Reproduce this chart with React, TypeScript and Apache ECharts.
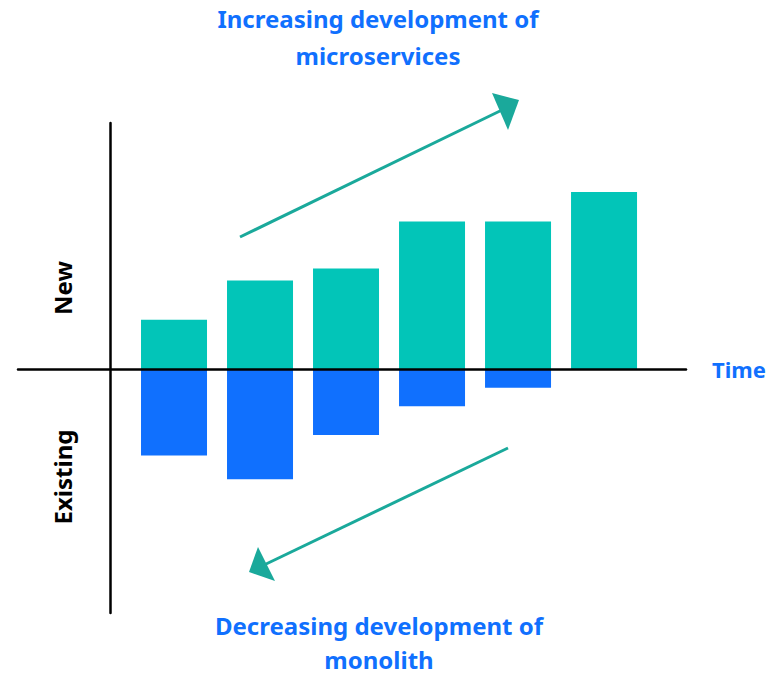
import React, { useEffect, useRef } from "react";
import * as echarts from "echarts";

// Periods along the time axis (bar centres)
const periods = [1, 2, 3, 4, 5, 6];
// New development (microservices), above the axis
const newWork = [2.5, 4.5, 5.1, 7.5, 7.5, 9.0];
// Existing development (monolith), below the axis
const existingWork = [-4.4, -5.6, -3.35, -1.9, -0.95, 0];

const topCaption = ["Increasing development of", "microservices"];
const bottomCaption = ["Decreasing development of", "monolith"];
const xName = "Time";
const upperLabel = "New";
const lowerLabel = "Existing";

const GREEN = "#02c5b8";
const BLUE = "#1070fe";
const TEAL = "#1aa99b";
const FONT = "'Noto Sans', 'DejaVu Sans', sans-serif";

export default function App() {
  const ref = useRef<HTMLDivElement>(null);

  useEffect(() => {
    if (!ref.current) return;
    const chart = echarts.init(ref.current, undefined, { renderer: "svg" });
    const captionText = (text: string, x: number, y: number) => ({
      type: "text",
      x,
      y,
      style: {
        text,
        textAlign: "center",
        textVerticalAlign: "middle",
        fill: BLUE,
        font: `bold 24px ${FONT}`,
        lineHeight: 26,
      },
    });
    const option = {
      animation: false,
      backgroundColor: "#ffffff",
      grid: { left: 18, right: 90, top: 123, bottom: 61 },
      xAxis: {
        type: "value",
        min: -0.814,
        max: 6.953,
        z: 5,
        axisLine: { show: true, onZero: true, lineStyle: { color: "#000", width: 2.5 } },
        axisTick: { show: false },
        axisLabel: { show: false },
        splitLine: { show: false },
        name: xName,
        nameLocation: "end",
        nameGap: 26,
        nameTextStyle: { color: BLUE, fontSize: 22, fontWeight: "bold", fontFamily: FONT, verticalAlign: "middle" },
      },
      yAxis: {
        type: "value",
        min: -12.4,
        max: 12.5,
        offset: -92,
        z: 5,
        axisLine: { show: true, onZero: false, lineStyle: { color: "#000", width: 2.5 } },
        axisTick: { show: false },
        axisLabel: { show: false },
        splitLine: { show: false },
      },
      series: [
        {
          type: "bar",
          stack: "work",
          barWidth: 66,
          itemStyle: { color: GREEN },
          data: periods.map((p, i) => [p, newWork[i]]),
        },
        {
          type: "bar",
          stack: "work",
          barWidth: 66,
          itemStyle: { color: BLUE },
          data: periods.map((p, i) => [p, existingWork[i]]),
        },
      ],
      graphic: [
        captionText(topCaption[0], 378, 18),
        captionText(topCaption[1], 378, 55),
        captionText(bottomCaption[0], 379, 625),
        captionText(bottomCaption[1], 379, 659),
        {
          type: "text",
          x: 62,
          y: 288,
          rotation: Math.PI / 2,
          style: {
            text: upperLabel,
            textAlign: "center",
            textVerticalAlign: "middle",
            fill: "#000",
            font: `bold 24px ${FONT}`,
          },
        },
        {
          type: "text",
          x: 62,
          y: 477,
          rotation: Math.PI / 2,
          style: {
            text: lowerLabel,
            textAlign: "center",
            textVerticalAlign: "middle",
            fill: "#000",
            font: `bold 24px ${FONT}`,
          },
        },
        {
          type: "line",
          shape: { x1: 240, y1: 237, x2: 502, y2: 110 },
          style: { stroke: TEAL, lineWidth: 3 },
        },
        {
          type: "polygon",
          shape: { points: [[492, 93], [519, 100], [508, 130]] },
          style: { fill: TEAL },
        },
        {
          type: "line",
          shape: { x1: 508, y1: 448, x2: 264, y2: 565 },
          style: { stroke: TEAL, lineWidth: 3 },
        },
        {
          type: "polygon",
          shape: { points: [[258, 547], [249, 572], [275, 581]] },
          style: { fill: TEAL },
        },
      ],
    };
    chart.setOption(option as any);
    return () => chart.dispose();
  }, []);

  return <div ref={ref} style={{ position: "fixed", left: 0, top: 0, width: 776, height: 674 }} />;
}
